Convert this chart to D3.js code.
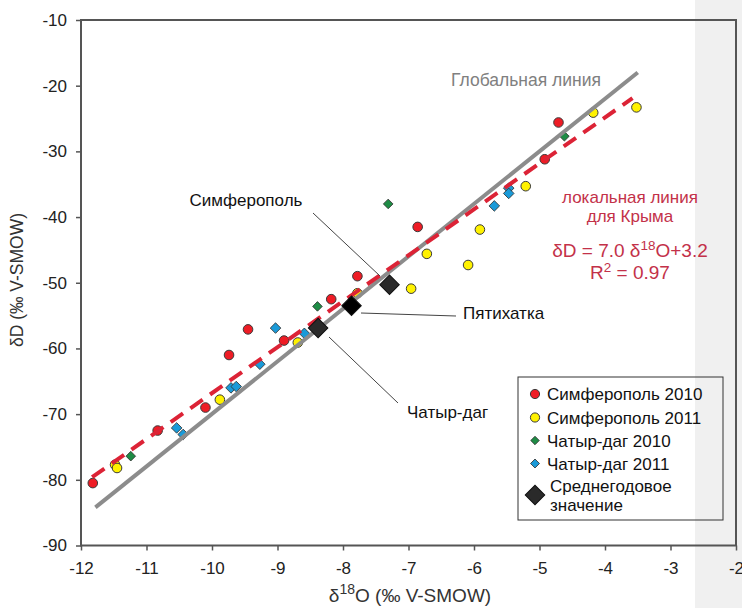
<!DOCTYPE html>
<html lang="ru">
<head>
<meta charset="UTF-8">
<title>δD vs δ18O</title>
<style>
  body { margin: 0; background: #fff; }
  svg { display: block; font-family: "Liberation Sans", Arial, sans-serif; }
</style>
</head>
<body>
<svg id="chart" width="742" height="608"></svg>
<script src="https://d3js.org/d3.v7.min.js"></script>
<script>
// data: [δ18O, δD]
const simf2010 = [[-11.82, -80.5], [-10.83, -72.5], [-10.10, -69.0], [-9.74, -61.0], [-9.45, -57.1],
  [-8.90, -58.8], [-8.18, -52.5], [-7.78, -49.0], [-6.86, -41.5], [-4.92, -31.2], [-4.71, -25.6]];
const simf2011 = [[-11.48, -77.7], [-11.45, -78.2], [-9.88, -67.8], [-8.69, -59.1], [-7.78, -51.6],
  [-6.96, -50.9], [-6.72, -45.6], [-6.09, -47.3], [-5.91, -41.9], [-5.21, -35.3], [-4.18, -24.1], [-3.52, -23.3]];
const chat2010 = [[-11.24, -76.4], [-8.39, -53.6], [-7.31, -38.0], [-4.62, -27.7]];
const chat2011 = [[-10.54, -72.1], [-10.44, -73.1], [-9.71, -66.0], [-9.63, -65.8], [-9.27, -62.4],
  [-9.03, -56.9], [-8.59, -57.7], [-5.69, -38.3], [-5.47, -35.6], [-5.47, -36.4]];
const meanNames = ["Симферополь", "Пятихатка", "Чатыр-даг"];
const meanValues = [[-7.29, -50.3], [-7.87, -53.5], [-8.38, -56.9]];
const globalLine = [[-11.78, -84.2], [-3.5, -18.0]];   // δD = 8 δ18O + 10
const localLine = [[-11.83, -79.6], [-3.58, -21.9]];   // δD = 7.0 δ18O + 3.2
const xTicks = [-12, -11, -10, -9, -8, -7, -6, -5, -4, -3, -2];
const yTicks = [-90, -80, -70, -60, -50, -40, -30, -20, -10];
const legendLabels = ["Симферополь 2010", "Симферополь 2011", "Чатыр-даг 2010", "Чатыр-даг 2011"];

const svg = d3.select("#chart");

// grey strip on the right side of the page
svg.append("rect").attr("x", 695).attr("y", 0).attr("width", 47).attr("height", 608).attr("fill", "#f0f0f0");

const x = d3.scaleLinear().domain([-12, -2]).range([81, 736]);
const y = d3.scaleLinear().domain([-90, -10]).range([545.5, 20]);

const axisColor = "#555";

// frame
svg.append("rect")
  .attr("x", x(-12)).attr("y", y(-10))
  .attr("width", x(-2) - x(-12)).attr("height", y(-90) - y(-10))
  .attr("fill", "none").attr("stroke", axisColor).attr("stroke-width", 2);

// axes
const xAxis = svg.append("g")
  .attr("transform", "translate(0," + y(-90) + ")")
  .call(d3.axisBottom(x).tickValues(xTicks).tickSize(5).tickPadding(11).tickFormat(d3.format("d")));
const yAxis = svg.append("g")
  .attr("transform", "translate(" + x(-12) + ",0)")
  .call(d3.axisLeft(y).tickValues(yTicks).tickSize(5).tickPadding(9).tickFormat(d3.format("d")));
[xAxis, yAxis].forEach(a => {
  a.select(".domain").remove();
  a.selectAll("line").attr("stroke", axisColor).attr("stroke-width", 1.5);
  a.selectAll("text").attr("font-size", 17).attr("fill", "#222")
    .attr("font-family", "'Liberation Sans', Arial, sans-serif")
    .text(d => String(d).replace("-", "-"));
});

// axis titles
const xt = svg.append("text").attr("x", 410).attr("y", 602).attr("text-anchor", "middle")
  .attr("font-size", 19).attr("fill", "#333");
xt.append("tspan").text("δ");
xt.append("tspan").attr("dy", -8).attr("font-size", 14).text("18");
xt.append("tspan").attr("dy", 8).text("O (‰ V-SMOW)");

svg.append("text").attr("transform", "translate(23,280) rotate(-90)").attr("text-anchor", "middle")
  .attr("font-size", 17.5).attr("fill", "#333").text("δD (‰ V-SMOW)");

// data points
const sq = d3.symbol().type(d3.symbolSquare);
function circles(data, fill) {
  svg.append("g").selectAll("circle").data(data).join("circle")
    .attr("cx", d => x(d[0])).attr("cy", d => y(d[1])).attr("r", 4.8)
    .attr("fill", fill).attr("stroke", "#3a3a3a").attr("stroke-width", 1);
}
function diamonds(data, fill, size) {
  svg.append("g").selectAll("path").data(data).join("path")
    .attr("d", sq.size(size)())
    .attr("transform", d => "translate(" + x(d[0]) + "," + y(d[1]) + ") rotate(45)")
    .attr("fill", fill).attr("stroke", "#333").attr("stroke-width", 0.8);
}
circles(simf2010, "#ee1c25");
circles(simf2011, "#fff200");
diamonds(chat2010, "#1e8c45", 46);
diamonds(chat2011, "#1a9ad8", 56);

// lines
const line = d3.line().x(d => x(d[0])).y(d => y(d[1]));
svg.append("path").attr("d", line(globalLine)).attr("fill", "none")
  .attr("stroke", "#8c8c8c").attr("stroke-width", 4);
svg.append("path").attr("d", line(localLine)).attr("fill", "none")
  .attr("stroke", "#dc2336").attr("stroke-width", 4).attr("stroke-dasharray", "15,9");

// leader lines for mean values
const leaders = [
  [[313, 213], [380, 276]],
  [[361, 313], [456, 316]],
  [[329, 337], [398, 403]]
];
leaders.forEach(l => {
  svg.append("line").attr("x1", l[0][0]).attr("y1", l[0][1]).attr("x2", l[1][0]).attr("y2", l[1][1])
    .attr("stroke", "#444").attr("stroke-width", 1);
});

// mean annual values
svg.append("g").selectAll("path").data(meanValues).join("path")
  .attr("d", sq.size(190)())
  .attr("transform", d => "translate(" + x(d[0]) + "," + y(d[1]) + ") rotate(45)")
  .attr("fill", (d, i) => i === 1 ? "#000" : "#2a2a2a").attr("stroke", "#111").attr("stroke-width", 1);

// labels
const labelPos = [[246, 206], [463, 319], [407, 418]];
meanNames.forEach((n, i) => {
  svg.append("text").attr("x", labelPos[i][0]).attr("y", labelPos[i][1])
    .attr("text-anchor", i === 0 ? "middle" : "start")
    .attr("font-size", 17).attr("fill", "#111").text(n);
});

svg.append("text").attr("x", 451).attr("y", 86).attr("font-size", 17.5).attr("fill", "#808080")
  .text("Глобальная линия");

const red = "#c33149";
svg.append("text").attr("x", 630).attr("y", 203).attr("text-anchor", "middle")
  .attr("font-size", 17).attr("fill", red).text("локальная линия");
svg.append("text").attr("x", 630).attr("y", 222).attr("text-anchor", "middle")
  .attr("font-size", 17).attr("fill", red).text("для Крыма");
const eq = svg.append("text").attr("x", 630).attr("y", 257).attr("text-anchor", "middle")
  .attr("font-size", 19).attr("fill", red);
eq.append("tspan").text("δD = 7.0 δ");
eq.append("tspan").attr("dy", -7).attr("font-size", 13.5).text("18");
eq.append("tspan").attr("dy", 7).text("O+3.2");
const r2 = svg.append("text").attr("x", 630).attr("y", 279).attr("text-anchor", "middle")
  .attr("font-size", 19).attr("fill", red);
r2.append("tspan").text("R");
r2.append("tspan").attr("dy", -7).attr("font-size", 13.5).text("2");
r2.append("tspan").attr("dy", 7).text(" = 0.97");

// legend
const lg = svg.append("g");
lg.append("rect").attr("x", 518).attr("y", 377).attr("width", 205).attr("height", 143)
  .attr("fill", "none").attr("stroke", "#333").attr("stroke-width", 1);
const legendY = [394, 417.5, 440.5, 463.5];
const legendFill = ["#ee1c25", "#fff200", "#1e8c45", "#1a9ad8"];
legendLabels.forEach((t, i) => {
  if (i < 2) {
    lg.append("circle").attr("cx", 535).attr("cy", legendY[i]).attr("r", 4.6)
      .attr("fill", legendFill[i]).attr("stroke", "#3a3a3a");
  } else {
    lg.append("path").attr("d", sq.size(i === 2 ? 36 : 40)())
      .attr("transform", "translate(535," + legendY[i] + ") rotate(45)")
      .attr("fill", legendFill[i]).attr("stroke", "#333").attr("stroke-width", 0.8);
  }
  lg.append("text").attr("x", 547).attr("y", legendY[i] + 6).attr("font-size", 17).attr("fill", "#111").text(t);
});
lg.append("path").attr("d", sq.size(190)())
  .attr("transform", "translate(535,495) rotate(45)").attr("fill", "#2a2a2a").attr("stroke", "#111");
lg.append("text").attr("x", 550).attr("y", 492).attr("font-size", 17).attr("fill", "#111").text("Среднегодовое");
lg.append("text").attr("x", 550).attr("y", 511).attr("font-size", 17).attr("fill", "#111").text("значение");
</script>
</body>
</html>
